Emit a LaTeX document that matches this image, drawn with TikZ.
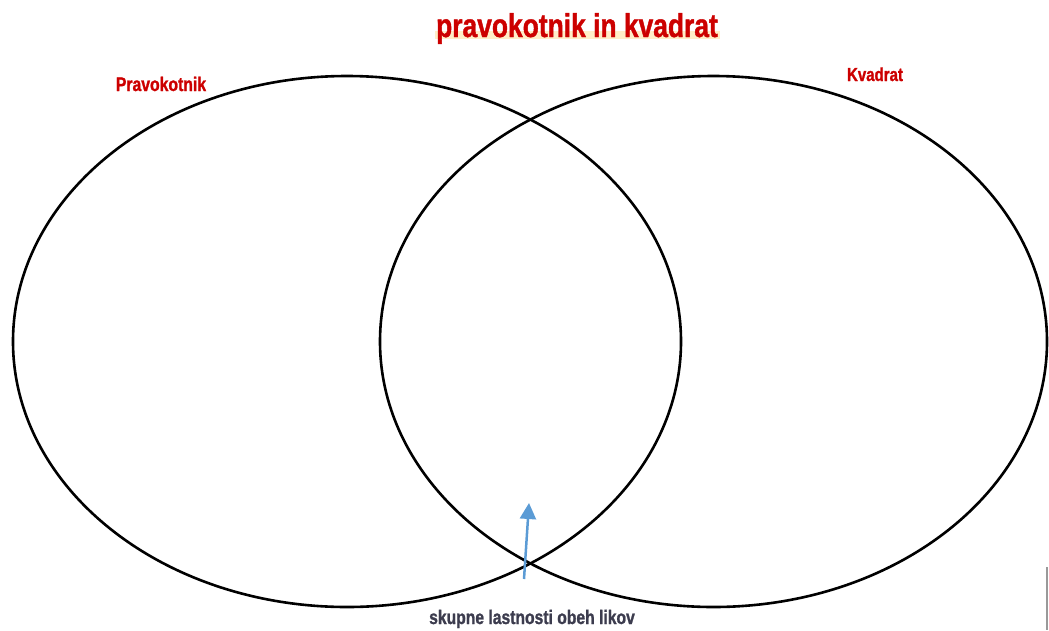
\documentclass[tikz,border=0pt]{standalone}
\usepackage{fontspec}
\newfontfamily\condfont[FakeStretch=0.8, FakeBold=1.2]{Liberation Sans}
\usepackage{tikz}
\usetikzlibrary{arrows.meta,positioning}
\usepackage{xcolor}
\definecolor{titlered}{RGB}{204,0,0}
\definecolor{markbg}{RGB}{255,238,200}
\definecolor{arrowblue}{RGB}{91,155,213}
\definecolor{notegray}{RGB}{60,60,78}

\begin{document}
\begin{tikzpicture}[x=1pt, y=-1pt]
    \useasboundingbox (0, 0) rectangle (1049, 630);

    % naslov
    \fill[markbg] (435, 31) rectangle (720, 39);
    \node[font=\condfont\bfseries\fontsize{33}{33}\selectfont, text=titlered, anchor=base] (naslov) at (577, 37) {pravokotnik in kvadrat};

    % elipsi
    \draw[line width=2.6pt] (347, 341.5) ellipse [x radius=334, y radius=265.5];
    \draw[line width=2.6pt] (713.5, 341.5) ellipse [x radius=333.5, y radius=265.5];

    % oznake
    \node[font=\condfont\bfseries\fontsize{19.7}{20}\selectfont, text=titlered, anchor=base] (levi) at (161, 91) {Pravokotnik};
    \node[font=\condfont\bfseries\fontsize{18.8}{20}\selectfont, text=titlered, anchor=base] (desni) at (875, 81) {Kvadrat};

    % puscica in skupne lastnosti
    \coordinate (zacetek) at (524, 579);
    \coordinate (konec) at (529, 503);
    \draw[arrowblue, line width=2.5pt, -{Triangle[length=16pt, width=16pt]}] (zacetek) -- (konec);
    \node[font=\condfont\bfseries\fontsize{19.6}{20}\selectfont, text=notegray, anchor=base] (skupno) at (532, 624) {skupne lastnosti obeh likov};

    % rob desno spodaj
    \draw[gray!80, line width=2pt] (1047, 567) -- (1047, 630);
\end{tikzpicture}
\end{document}
